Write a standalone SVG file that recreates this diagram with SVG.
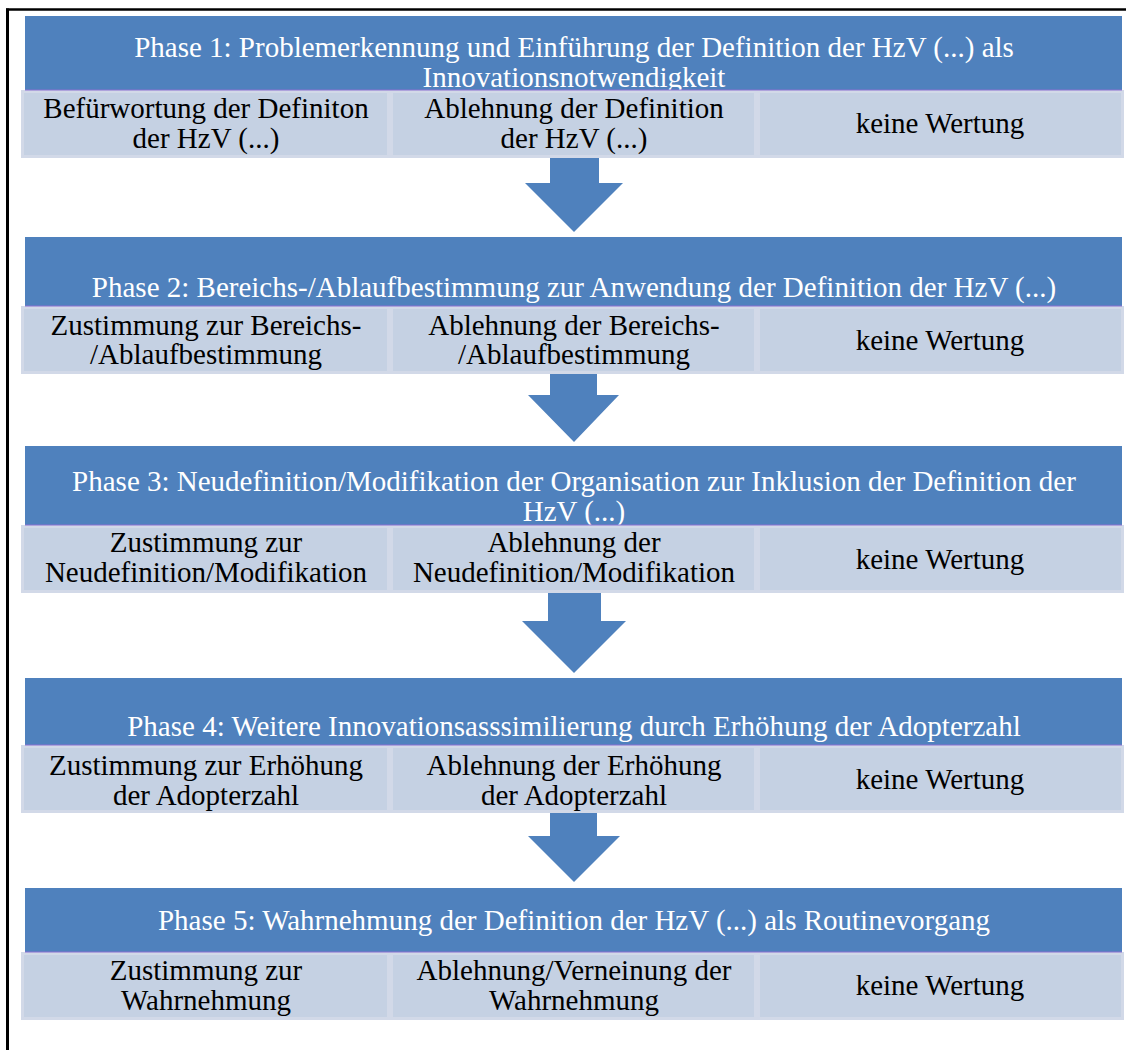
<svg xmlns="http://www.w3.org/2000/svg" width="1126" height="1050" viewBox="0 0 1126 1050">
  <style>
    .hdr { fill: #4f81bd; }
    .hdr-edge { stroke: #8a6fd0; stroke-width: 1; }
    .cell { fill: #c5d1e3; stroke: #d2d9e8; stroke-width: 3; }
    .t { font-family: "Liberation Serif", "Times New Roman", serif; font-size: 29px; text-anchor: middle; }
    .th { fill: #ffffff; }
    .tc { fill: #000000; }
    .arrow { fill: #4f81bd; }
    .frame { stroke: #000000; fill: none; }
  </style>

  <rect width="1126" height="1050" fill="#ffffff"/>

  <!-- page frame -->
  <g id="frame">
    <line class="frame" x1="6" y1="9.5" x2="1126" y2="9.5" stroke-width="2.5"/>
    <line class="frame" x1="7.5" y1="8.5" x2="7.5" y2="1050" stroke-width="3"/>
  </g>

  <!-- phase 1 -->
  <g id="phase1">
    <rect class="hdr" x="25" y="16" width="1097" height="74"/>
    <text class="t th" x="574" y="57">Phase 1: Problemerkennung und Einführung der Definition der HzV (...) als</text>
    <text class="t th" x="574" y="87">Innovationsnotwendigkeit</text>
    <rect class="cell" x="22.5" y="91.5" width="366" height="65"/>
    <rect class="cell" x="391.5" y="91.5" width="364" height="65"/>
    <rect class="cell" x="758.5" y="91.5" width="364" height="65"/>
    <line class="hdr-edge" x1="25" y1="90" x2="1122" y2="90"/>
    <text class="t tc" x="206" y="118">Befürwortung der Definiton</text>
    <text class="t tc" x="206" y="148">der HzV (...)</text>
    <text class="t tc" x="574" y="118">Ablehnung der Definition</text>
    <text class="t tc" x="574" y="148">der HzV (...)</text>
    <text class="t tc" x="940" y="133">keine Wertung</text>
  </g>

  <!-- phase 2 -->
  <g id="phase2">
    <rect class="hdr" x="25" y="237" width="1097" height="69"/>
    <text class="t th" x="574" y="297">Phase 2: Bereichs-/Ablaufbestimmung zur Anwendung der Definition der HzV (...)</text>
    <rect class="cell" x="22.5" y="307.5" width="366" height="65"/>
    <rect class="cell" x="391.5" y="307.5" width="364" height="65"/>
    <rect class="cell" x="758.5" y="307.5" width="364" height="65"/>
    <line class="hdr-edge" x1="25" y1="306" x2="1122" y2="306"/>
    <text class="t tc" x="206" y="335">Zustimmung zur Bereichs-</text>
    <text class="t tc" x="206" y="364">/Ablaufbestimmung</text>
    <text class="t tc" x="574" y="335">Ablehnung der Bereichs-</text>
    <text class="t tc" x="574" y="364">/Ablaufbestimmung</text>
    <text class="t tc" x="940" y="350">keine Wertung</text>
  </g>

  <!-- phase 3 -->
  <g id="phase3">
    <rect class="hdr" x="25" y="446" width="1097" height="79"/>
    <text class="t th" x="574" y="491">Phase 3: Neudefinition/Modifikation der Organisation zur Inklusion der Definition der</text>
    <text class="t th" x="574" y="521">HzV (...)</text>
    <rect class="cell" x="22.5" y="526.5" width="366" height="65"/>
    <rect class="cell" x="391.5" y="526.5" width="364" height="65"/>
    <rect class="cell" x="758.5" y="526.5" width="364" height="65"/>
    <line class="hdr-edge" x1="25" y1="525" x2="1122" y2="525"/>
    <text class="t tc" x="206" y="552">Zustimmung zur</text>
    <text class="t tc" x="206" y="582">Neudefinition/Modifikation</text>
    <text class="t tc" x="574" y="552">Ablehnung der</text>
    <text class="t tc" x="574" y="582">Neudefinition/Modifikation</text>
    <text class="t tc" x="940" y="569">keine Wertung</text>
  </g>

  <!-- phase 4 -->
  <g id="phase4">
    <rect class="hdr" x="25" y="678" width="1097" height="67"/>
    <text class="t th" x="574" y="736">Phase 4: Weitere Innovationsasssimilierung durch Erhöhung der Adopterzahl</text>
    <rect class="cell" x="22.5" y="746.5" width="366" height="65"/>
    <rect class="cell" x="391.5" y="746.5" width="364" height="65"/>
    <rect class="cell" x="758.5" y="746.5" width="364" height="65"/>
    <line class="hdr-edge" x1="25" y1="745" x2="1122" y2="745"/>
    <text class="t tc" x="206" y="775">Zustimmung zur Erhöhung</text>
    <text class="t tc" x="206" y="805">der Adopterzahl</text>
    <text class="t tc" x="574" y="775">Ablehnung der Erhöhung</text>
    <text class="t tc" x="574" y="805">der Adopterzahl</text>
    <text class="t tc" x="940" y="789">keine Wertung</text>
  </g>

  <!-- phase 5 -->
  <g id="phase5">
    <rect class="hdr" x="25" y="888" width="1097" height="64"/>
    <text class="t th" x="574" y="930">Phase 5: Wahrnehmung der Definition der HzV (...) als Routinevorgang</text>
    <rect class="cell" x="22.5" y="953.5" width="366" height="65"/>
    <rect class="cell" x="391.5" y="953.5" width="364" height="65"/>
    <rect class="cell" x="758.5" y="953.5" width="364" height="65"/>
    <line class="hdr-edge" x1="25" y1="952" x2="1122" y2="952"/>
    <text class="t tc" x="206" y="980">Zustimmung zur</text>
    <text class="t tc" x="206" y="1010">Wahrnehmung</text>
    <text class="t tc" x="574" y="980">Ablehnung/Verneinung der</text>
    <text class="t tc" x="574" y="1010">Wahrnehmung</text>
    <text class="t tc" x="940" y="995">keine Wertung</text>
  </g>

  <!-- block arrows between phases -->
  <g id="connectors">
    <path class="arrow" d="M550,158 H599 V183 H623 L574,232 L525,183 H550 Z"/>
    <path class="arrow" d="M550,374 H597 V395 H619 L574,442 L528,395 H550 Z"/>
    <path class="arrow" d="M548,593 H601 V621 H626 L574,673 L522,621 H548 Z"/>
    <path class="arrow" d="M550,813 H597 V836 H620 L574,882 L528,836 H550 Z"/>
  </g>
</svg>
